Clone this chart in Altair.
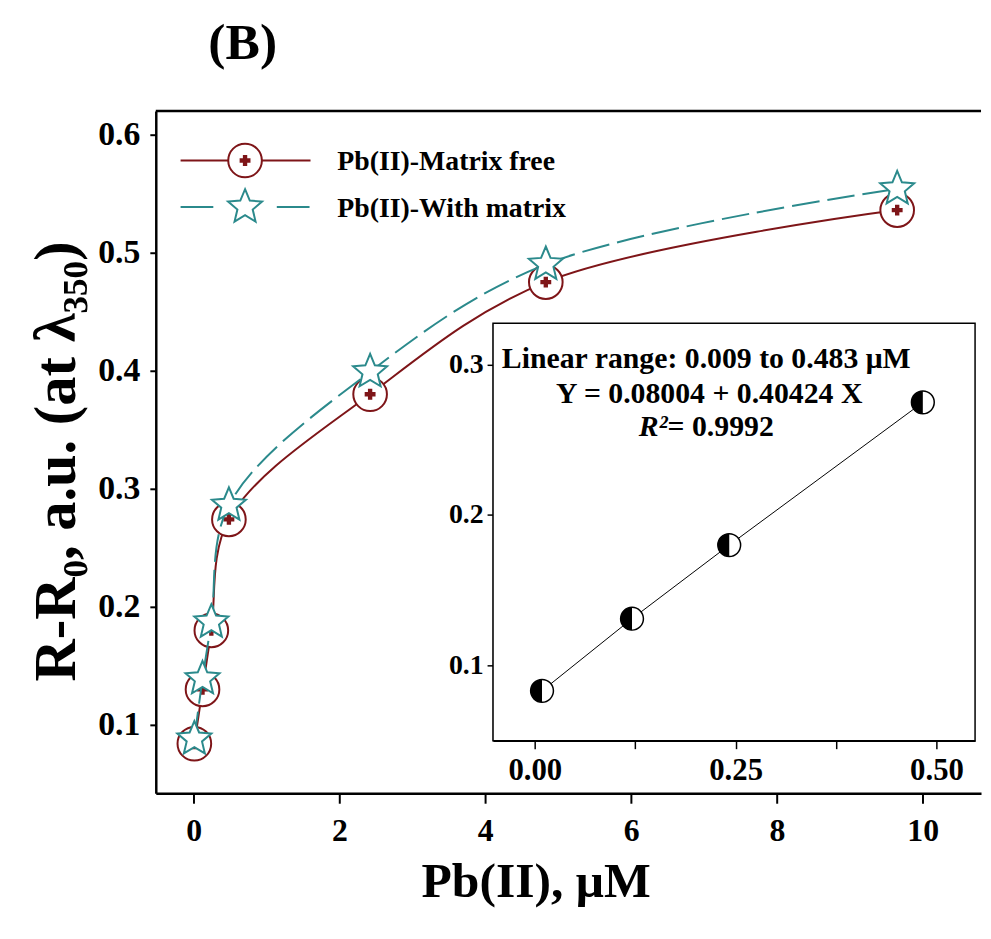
import altair as alt
import pandas as pd

# ---------------- data ----------------
conc_uM = [0.009, 0.121, 0.242, 0.483, 2.42, 4.83, 9.65]
matrix_free = [0.084, 0.130, 0.180, 0.274, 0.380, 0.475, 0.536]
with_matrix = [0.088, 0.139, 0.187, 0.286, 0.399, 0.490, 0.554]

inset_conc = [0.009, 0.121, 0.242, 0.483]
inset_resp = [0.083, 0.131, 0.180, 0.275]

x_ticks = [0, 2, 4, 6, 8, 10]
y_ticks = [0.1, 0.2, 0.3, 0.4, 0.5, 0.6]
inset_x_ticks = [0.0, 0.125, 0.25, 0.375, 0.5]
inset_y_ticks = [0.1, 0.2, 0.3]

series_names = ["Pb(II)-Matrix free", "Pb(II)-With matrix"]
inset_text = ["Linear range: 0.009 to 0.483 μM", "Y = 0.08004 + 0.40424 X", "R²", " = 0.9992"]
panel_label = "(B)"

x_dom = [-0.52, 10.8]
y_dom = [0.042, 0.62]
ix_dom = [-0.052, 0.548]
iy_dom = [0.0498, 0.3277]

# ---------------- style ----------------
FONT = "Liberation Serif"
RED = "#7e1518"
TEAL = "#2b8a8c"
W, H = 832, 688

STAR = ("M0,-1L0.265,-0.364L0.951,-0.309L0.428,0.139L0.588,0.809L0,0.45"
        "L-0.588,0.809L-0.428,0.139L-0.951,-0.309L-0.265,-0.364Z")
HALF_LEFT = "M0,-1A1,1,0,0,0,0,1Z"

sx = alt.Scale(domain=x_dom, nice=False, zero=False)
sy = alt.Scale(domain=y_dom, nice=False, zero=False)
isx = alt.Scale(domain=ix_dom, range=[340, 826], nice=False, zero=False)
isy = alt.Scale(domain=iy_dom, range=[635, 214], nice=False, zero=False)

ax_x = alt.Axis(orient="bottom", values=x_ticks, format="d", title="Pb(II), μM",
                grid=False, domainColor="black", domainWidth=2.5, tickColor="black",
                tickWidth=2, tickSize=10, labelFont=FONT, labelFontSize=32,
                labelFontWeight="bold", labelColor="black", labelPadding=13,
                titleFont=FONT, titleFontSize=50, titleFontWeight="bold",
                titleColor="black", titleX=383, titleY=89, titleAlign="center",
                titleBaseline="middle")
ax_y = alt.Axis(orient="left", values=y_ticks, format=".1f",
                title="R-R₀, a.u. (at λ₃₅₀)",
                grid=False, domainColor="black", domainWidth=2.5, tickColor="black",
                tickWidth=2, tickSize=6, labelFont=FONT, labelFontSize=34,
                labelFontWeight="bold", labelColor="black", labelPadding=10,
                titleFont=FONT, titleFontSize=59, titleFontWeight="bold",
                titleColor="black", titleAngle=270, titleX=-100, titleY=353,
                titleAlign="center", titleBaseline="middle")
iax_x = alt.Axis(orient="bottom", offset=-53, values=inset_x_ticks,
                 labelExpr="(datum.value == 0 || datum.value == 0.25 || datum.value == 0.5) ? format(datum.value, '.2f') : ''",
                 title=None, grid=False, domainColor="black", domainWidth=1.5,
                 tickColor="black", tickWidth=1.5, tickSize=8, labelFont=FONT,
                 labelFontSize=31, labelFontWeight="bold", labelColor="black",
                 labelPadding=7, labelOverlap=False)
iax_y = alt.Axis(orient="left", offset=-340, values=inset_y_ticks, format=".1f",
                 title=None, grid=False, domainColor="black", domainWidth=1.5,
                 tickColor="black", tickWidth=1.5, tickSize=6, labelFont=FONT,
                 labelFontSize=28, labelFontWeight="bold", labelColor="black",
                 labelPadding=4)

df_main = pd.DataFrame({"conc": conc_uM, "free": matrix_free, "matrix": with_matrix})
df_inset = pd.DataFrame({"conc": inset_conc, "resp": inset_resp})
one = pd.DataFrame({"k": [0]})


def MX(f):
    return alt.X(f"{f}:Q", scale=sx, axis=ax_x)


def MY(f):
    return alt.Y(f"{f}:Q", scale=sy, axis=ax_y)


base = alt.Chart(df_main)

top_border = alt.Chart(one).mark_rule(color="black", strokeWidth=2.5).encode(
    x=alt.XDatum(x_dom[0], type="quantitative", scale=sx, axis=ax_x),
    x2=alt.X2Datum(x_dom[1]),
    y=alt.YDatum(y_dom[1], type="quantitative", scale=sy, axis=ax_y),
)

red_line = base.mark_line(color=RED, strokeWidth=2, interpolate="catmull-rom").encode(
    x=MX("conc"), y=MY("free"))
red_circ = base.mark_point(shape="circle", filled=True, fill="white", stroke=RED,
                           strokeWidth=2, size=1150, opacity=1).encode(
    x=MX("conc"), y=MY("free"))
red_plus = base.mark_point(shape="cross", filled=True, color=RED, size=120,
                           opacity=1).encode(x=MX("conc"), y=MY("free"))
teal_line = base.mark_line(color=TEAL, strokeWidth=2, strokeDash=[28, 8],
                           interpolate="catmull-rom").encode(x=MX("conc"), y=MY("matrix"))
teal_star = base.mark_point(shape=STAR, filled=True, fill="white", stroke=TEAL,
                            strokeWidth=2, size=1300, opacity=1).encode(
    x=MX("conc"), y=MY("matrix"))

# legend (decoration in pixel space)
leg = alt.Chart(one)
leg_red_line = leg.mark_rule(color=RED, strokeWidth=2).encode(
    x=alt.value(25), x2=alt.value(156), y=alt.value(50))
leg_red_circ = leg.mark_point(shape="circle", filled=True, fill="white", stroke=RED,
                              strokeWidth=2, size=1150, opacity=1).encode(
    x=alt.value(90), y=alt.value(50))
leg_red_plus = leg.mark_point(shape="cross", filled=True, color=RED, size=120,
                              opacity=1).encode(x=alt.value(90), y=alt.value(50))
leg_teal_line = leg.mark_rule(color=TEAL, strokeWidth=2, strokeDash=[33, 64]).encode(
    x=alt.value(25), x2=alt.value(156), y=alt.value(97))
leg_teal_star = leg.mark_point(shape=STAR, filled=True, fill="white", stroke=TEAL,
                               strokeWidth=2, size=1300, opacity=1).encode(
    x=alt.value(90), y=alt.value(97))
leg_t1 = leg.mark_text(text=series_names[0], font=FONT, fontSize=28, fontWeight="bold",
                       color="black", align="left", baseline="middle").encode(
    x=alt.value(183), y=alt.value(52))
leg_t2 = leg.mark_text(text=series_names[1], font=FONT, fontSize=28, fontWeight="bold",
                       color="black", align="left", baseline="middle").encode(
    x=alt.value(183), y=alt.value(99))
title_txt = leg.mark_text(text=panel_label, font=FONT, fontSize=52, fontWeight="bold",
                          color="black", align="left", baseline="middle").encode(
    x=alt.value(53), y=alt.value(-68))

txt_kw = dict(font=FONT, fontSize=30, fontWeight="bold", color="black", baseline="middle")
in_t1 = leg.mark_text(text=inset_text[0], align="center", **txt_kw).encode(
    x=alt.value(555), y=alt.value(250))
in_t2 = leg.mark_text(text=inset_text[1], align="center", **txt_kw).encode(
    x=alt.value(558), y=alt.value(285))
in_t3 = leg.mark_text(text=inset_text[2], align="right", fontStyle="italic", **txt_kw).encode(
    x=alt.value(516), y=alt.value(319))
in_t4 = leg.mark_text(text=inset_text[3], align="left", **txt_kw).encode(
    x=alt.value(516), y=alt.value(319))

main = alt.layer(top_border, red_line, red_circ, red_plus, teal_line, teal_star,
                 leg_red_line, leg_red_circ, leg_red_plus, leg_teal_line, leg_teal_star,
                 leg_t1, leg_t2, title_txt, in_t1, in_t2, in_t3, in_t4)


def IX(f):
    return alt.X(f"{f}:Q", scale=isx, axis=iax_x)


def IY(f):
    return alt.Y(f"{f}:Q", scale=isy, axis=iax_y)


inset_frame = alt.Chart(one).mark_rect(fill="white", stroke="black", strokeWidth=1.5).encode(
    x=alt.XDatum(ix_dom[0], type="quantitative", scale=isx, axis=iax_x),
    x2=alt.X2Datum(ix_dom[1]),
    y=alt.YDatum(iy_dom[0], type="quantitative", scale=isy, axis=iax_y),
    y2=alt.Y2Datum(iy_dom[1]),
)
ibase = alt.Chart(df_inset)
inset_line = ibase.mark_line(color="black", strokeWidth=1).encode(x=IX("conc"), y=IY("resp"))
inset_circ = ibase.mark_point(shape="circle", filled=True, fill="white", stroke="black",
                              strokeWidth=1.5, size=529, opacity=1).encode(
    x=IX("conc"), y=IY("resp"))
inset_half = ibase.mark_point(shape=HALF_LEFT, filled=True, color="black", size=529,
                              opacity=1).encode(x=IX("conc"), y=IY("resp"))

inset = alt.layer(inset_frame, inset_line, inset_circ, inset_half)

chart = alt.layer(inset, main).resolve_scale(x="independent", y="independent").properties(
    width=W, height=H,
    autosize=alt.AutoSizeParams(type="none"),
    padding={"left": 149, "top": 100, "right": 2, "bottom": 125},
    background="white",
).configure_view(stroke=None)

chart.save("out.html", embed_options={"renderer": "svg", "actions": False})
